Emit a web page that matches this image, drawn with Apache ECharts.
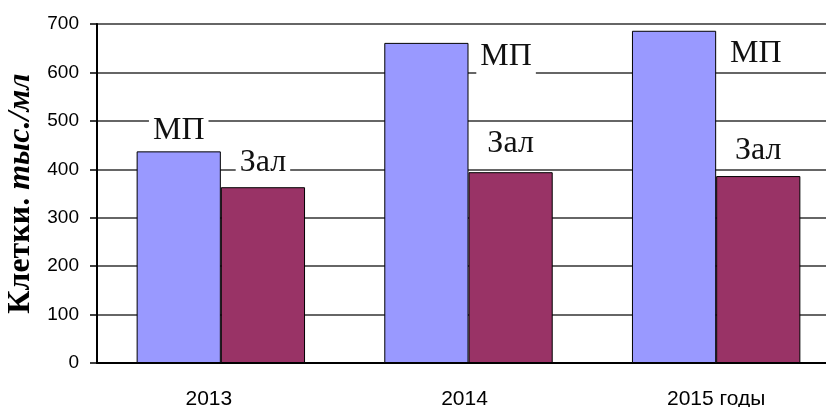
<!DOCTYPE html>
<html>
<head>
<meta charset="utf-8">
<script src="https://cdn.jsdelivr.net/npm/echarts@6/dist/echarts.min.js"></script>
<style>html,body{margin:0;padding:0;background:#fff}#c{width:826px;height:407px}</style>
</head>
<body>
<div id="c"></div>
<script>
const categories = ['2013', '2014', '2015 годы'];
const seriesNames = ['МП', 'Зал'];
const mpValues = [437, 661, 686];
const zalValues = [363, 394, 386];
const yTicks = [0, 100, 200, 300, 400, 500, 600, 700];

const serifFont = '"Liberation Serif", "Times New Roman", serif';
const sansFont = 'Arial, "Liberation Sans", sans-serif';
const labelBase = {
  show: true,
  formatter: '{a}',
  fontFamily: serifFont,
  fontSize: 32,
  color: '#111',
  backgroundColor: '#fff',
  padding: [2, 4, 2, 4]
};

const mpLabels = [
  { position: 'top', distance: 3 },
  { position: [92, -4] },
  { position: [94, 5] }
];
const zalLabels = [
  { position: 'top', distance: 7 },
  { position: 'top', distance: 11 },
  { position: 'top', distance: 7 }
];
const xLabelPads = [[0, 24, 0, 0], [0, 8, 0, 0], [0, 0, 0, 0]];

const chart = echarts.init(document.getElementById('c'));
chart.setOption({
  animation: false,
  backgroundColor: '#fff',
  grid: { left: 97, top: 24, bottom: 44, width: 743, containLabel: false, outerBoundsMode: 'none' },
  xAxis: {
    type: 'category',
    data: categories.map((c, i) => ({ value: c, textStyle: { padding: xLabelPads[i] } })),
    axisLine: { lineStyle: { color: '#000', width: 2 } },
    axisTick: { show: false },
    axisLabel: { fontFamily: sansFont, fontSize: 21, color: '#000', margin: 26 }
  },
  yAxis: {
    type: 'value',
    min: yTicks[0],
    max: yTicks[yTicks.length - 1],
    interval: 100,
    name: '{a|Клетки. }{b|тыс./мл}',
    nameLocation: 'middle',
    nameGap: 60,
    nameRotate: 90,
    nameTextStyle: {
      rich: {
        a: { fontFamily: serifFont, fontSize: 32, fontWeight: 'bold', color: '#000' },
        b: { fontFamily: serifFont, fontSize: 32, fontWeight: 'bold', fontStyle: 'italic', color: '#000' }
      }
    },
    axisLine: { show: true, lineStyle: { color: '#000', width: 2 } },
    axisTick: { show: true, inside: false, length: 7, lineStyle: { color: '#000', width: 1.5 } },
    axisLabel: { fontFamily: sansFont, fontSize: 19, color: '#000', margin: 18, padding: [0, 0, 5, 0] },
    splitLine: { show: true, lineStyle: { color: '#333', width: 1.5 } }
  },
  series: [
    {
      name: seriesNames[0],
      type: 'bar',
      barGap: '0%',
      barCategoryGap: '32%',
      itemStyle: { color: '#9999FF', borderColor: '#000', borderWidth: 1 },
      data: mpValues.map((v, i) => ({ value: v, label: Object.assign({}, labelBase, mpLabels[i]) }))
    },
    {
      name: seriesNames[1],
      type: 'bar',
      barGap: '0%',
      barCategoryGap: '32%',
      itemStyle: { color: '#993366', borderColor: '#000', borderWidth: 1 },
      data: zalValues.map((v, i) => ({ value: v, label: Object.assign({}, labelBase, zalLabels[i]) }))
    }
  ]
});
</script>
</body>
</html>
